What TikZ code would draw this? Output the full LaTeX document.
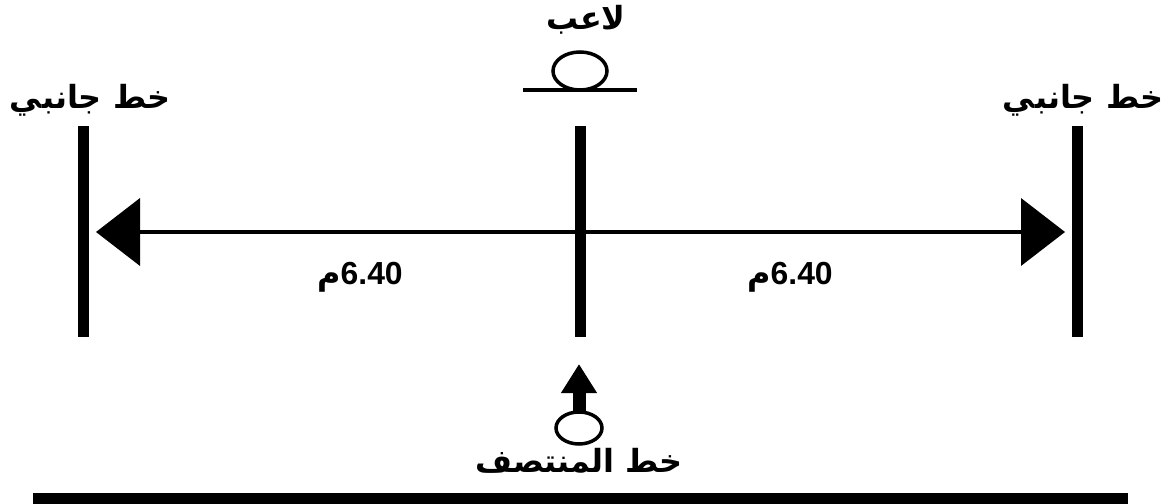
\documentclass[tikz,border=0pt]{standalone}
\usepackage{fontspec}
\usetikzlibrary{arrows.meta,positioning}
\TeXXeTstate=1
\newfontfamily\arabicfont[Script=Arabic]{DejaVu Sans}
\setmainfont{Liberation Sans}
\tikzset{sideline/.style={line width=11bp,draw=black},
  lbl/.style={font=\arabicfont\bfseries\fontsize{32}{36}\selectfont,inner sep=0pt},
  dist/.style={font=\bfseries\fontsize{32}{36}\selectfont,inner sep=0pt},
  dimarr/.style={line width=4bp,{Triangle[length=44bp,width=67bp]}-{Triangle[length=44bp,width=67bp]}},
  player/.style={line width=3.5bp,draw=black}}
\begin{document}
\begin{tikzpicture}[x=1bp,y=-1bp]
\useasboundingbox (0,0) rectangle (1172,504);
% lines
\coordinate (ltop) at (83,126);\coordinate (lbot) at (83,337);
\coordinate (mtop) at (580,126);\coordinate (mbot) at (580,337);
\coordinate (rtop) at (1077,126);\coordinate (rbot) at (1077,337);
\draw[sideline] (ltop) -- (lbot);
\draw[sideline] (mtop) -- (mbot);
\draw[sideline] (rtop) -- (rbot);
\coordinate (ltip) at (96,232);\coordinate (rtip) at (1065,232);
\draw[dimarr] (ltip) -- (rtip);
\node[dist] (dl) at (360,277) {{\arabicfont م}6.40};
\node[dist] (dr) at (790,277) {{\arabicfont م}6.40};
% labels
\node[lbl] (sl) at (90,100) {\beginR خط جانبي\endR};
\node[lbl] (sr) at (1083,100) {\beginR خط جانبي\endR};
% player top
\node[lbl] (pl) at (586,20) {\beginR لاعب\endR};
\draw[player] (580,71) ellipse [x radius=27, y radius=19];
\coordinate (pa) at (523,90);\coordinate (pb) at (637,90);
\draw[line width=3.5bp] (pa) -- (pb);
% player bottom
\draw[player] (579,428) ellipse [x radius=23, y radius=16];
\coordinate (bs) at (579,412);\coordinate (bt) at (579,364);
\draw[line width=13bp,-{Triangle[length=29bp,width=34bp]}] (bs) -- (bt);
\node[lbl] (ml) at (579,461) {\beginR خط المنتصف\endR};
\fill (33,493) rectangle (1128,504);
\end{tikzpicture}
\end{document}
